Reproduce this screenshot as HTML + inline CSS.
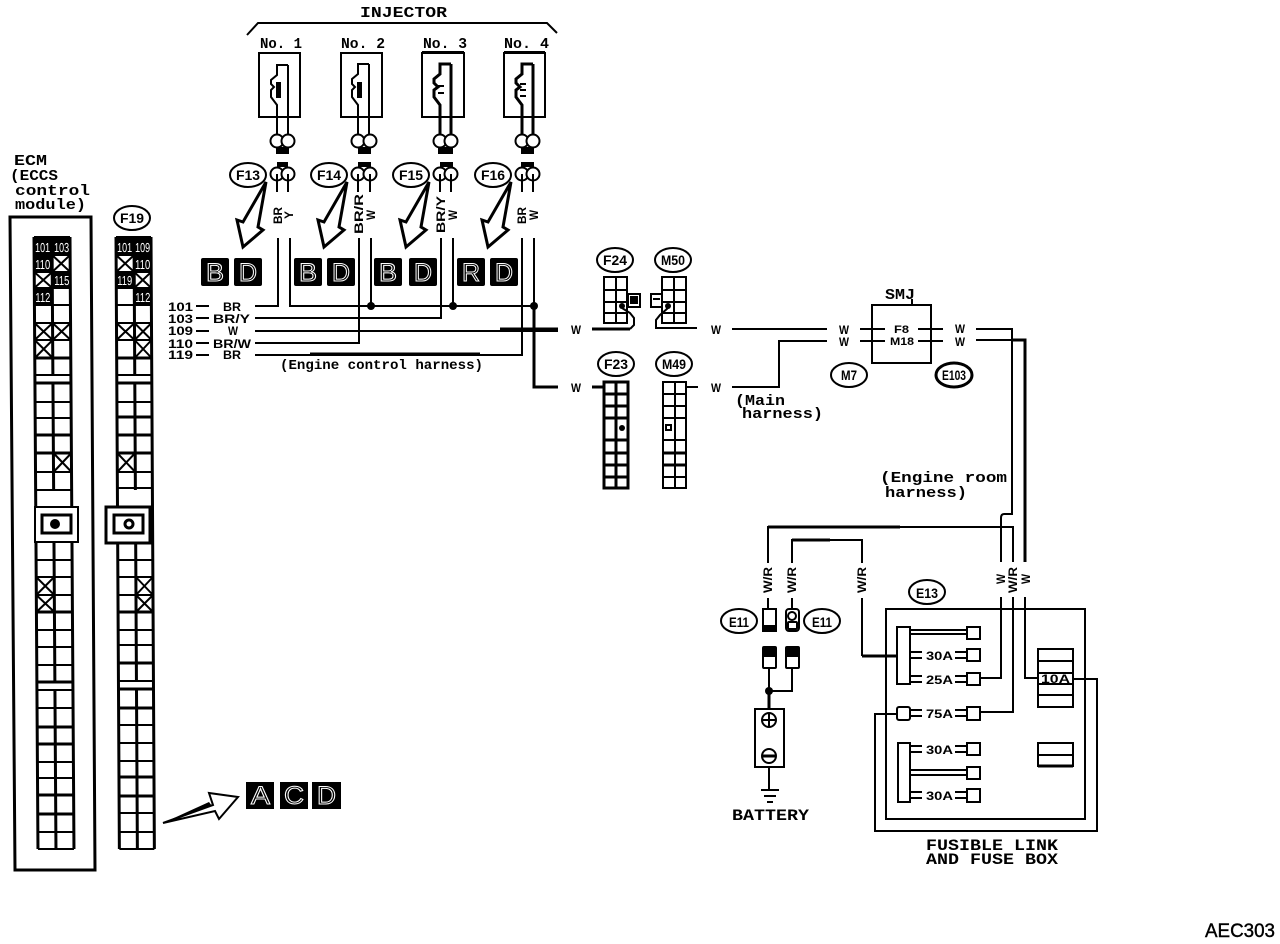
<!DOCTYPE html>
<html><head><meta charset="utf-8"><style>
html,body{margin:0;padding:0;background:#fff}
svg{display:block}
text{font-family:"Liberation Sans",sans-serif;font-weight:bold;fill:#000}
text.n{font-family:"Liberation Mono",monospace;font-weight:bold}
.l{fill:none;stroke:#000;stroke-width:2}
.t{stroke-width:3}
.ov{fill:#fff;stroke:#000;stroke-width:2}
.bx{fill:#fff;stroke:#000;stroke-width:2}
.bk{fill:#000}
.bt{fill:#000;stroke:#fff;stroke-width:1;font-size:25px;font-weight:normal}
.wt{fill:#fff;font-size:13px;font-weight:normal}
</style></head><body>
<svg width="1280" height="944" viewBox="0 0 1280 944" xmlns="http://www.w3.org/2000/svg">
<rect width="1280" height="944" fill="#fff"/>

<!-- ECM box -->
<text class="n" x="14" y="165" font-size="15" textLength="33" lengthAdjust="spacingAndGlyphs">ECM</text>
<text class="n" x="10" y="180" font-size="15" textLength="48" lengthAdjust="spacingAndGlyphs">(ECCS</text>
<text class="n" x="15" y="195" font-size="15" textLength="75" lengthAdjust="spacingAndGlyphs">control</text>
<text class="n" x="15" y="209" font-size="15" textLength="71" lengthAdjust="spacingAndGlyphs">module)</text>
<path class="l t" d="M10 217L15 870H95L91 217Z"/>

<!-- ECM grid -->
<g transform="matrix(1 0 .0065 1 -1.55 0)">
<path class="l t" d="M34 237V849M52 237V375M52 383V490M52 542V682M52 690V849M70 237V849"/>
<path class="l" d="M34 237H70M34 255H70M34 272H70M34 288H70M34 305H70M34 323H70M34 340H70M34 375H70M34 402H70M34 418H70M34 472H70M34 490H70M34 560H70M34 577H70M34 595H70M34 630H70M34 647H70M34 665H70M34 690H70M34 708H70M34 762H70M34 778H70M34 832H70M34 849H70"/>
<path class="l t" d="M34 358H70M34 383H70M34 435H70M34 453H70M34 612H70M34 682H70M34 727H70M34 744H70M34 795H70M34 814H70"/>
<rect class="bk" x="33" y="237" width="37" height="19"/><rect class="bk" x="33" y="255" width="19" height="17"/><rect class="bk" x="52" y="272" width="18" height="16"/><rect class="bk" x="33" y="288" width="19" height="17"/>
<text class="wt" x="35" y="252" textLength="15" lengthAdjust="spacingAndGlyphs" font-size="14">101</text>
<text class="wt" x="54" y="252" textLength="15" lengthAdjust="spacingAndGlyphs" font-size="14">103</text>
<text class="wt" x="35" y="269" textLength="15" lengthAdjust="spacingAndGlyphs" font-size="14">110</text>
<text class="wt" x="54" y="285" textLength="15" lengthAdjust="spacingAndGlyphs" font-size="14">115</text>
<text class="wt" x="35" y="302" textLength="15" lengthAdjust="spacingAndGlyphs" font-size="14">112</text>
<path class="l" d="M52 255L70 272M70 255L52 272M34 272L52 288M52 272L34 288M34 323L52 340M52 323L34 340M52 323L70 340M70 323L52 340M34 340L52 358M52 340L34 358M52 453L70 472M70 453L52 472M34 577L52 595M52 577L34 595M34 595L52 612M52 595L34 612"/>
</g>
<rect class="bx" x="35" y="507" width="43" height="35" stroke-width="3"/>
<rect class="bx" x="42" y="515" width="29" height="18" style="stroke-width:3"/>
<circle class="bk" cx="55" cy="524" r="5"/>

<!-- F19 -->
<ellipse class="ov" cx="132" cy="218" rx="18" ry="12"/>
<text x="120" y="223" font-size="14" textLength="24" lengthAdjust="spacingAndGlyphs">F19</text>
<g transform="matrix(1 0 .0055 1 -1.3 0)">
<path class="l t" d="M116 237V849M134 237V375M134 383V490M134 542V682M134 690V849M151 237V849"/>
<path class="l" d="M116 237H151M116 255H151M116 272H151M116 288H151M116 305H151M116 323H151M116 340H151M116 375H151M116 402H151M116 472H151M116 488H151M116 560H151M116 577H151M116 595H151M116 630H151M116 645H151M116 681H151M116 725H151M116 743H151M116 761H151M116 813H151M116 832H151M116 849H151"/>
<path class="l t" d="M116 358H151M116 383H151M116 417H151M116 435H151M116 453H151M116 612H151M116 663H151M116 689H151M116 708H151M116 777H151M116 796H151"/>
<rect class="bk" x="115" y="237" width="37" height="19"/><rect class="bk" x="134" y="255" width="18" height="17"/><rect class="bk" x="115" y="272" width="19" height="16"/><rect class="bk" x="134" y="288" width="18" height="17"/>
<text class="wt" x="117" y="252" textLength="15" lengthAdjust="spacingAndGlyphs" font-size="14">101</text>
<text class="wt" x="135" y="252" textLength="15" lengthAdjust="spacingAndGlyphs" font-size="14">109</text>
<text class="wt" x="135" y="269" textLength="15" lengthAdjust="spacingAndGlyphs" font-size="14">110</text>
<text class="wt" x="117" y="285" textLength="15" lengthAdjust="spacingAndGlyphs" font-size="14">119</text>
<text class="wt" x="135" y="302" textLength="15" lengthAdjust="spacingAndGlyphs" font-size="14">112</text>
<path class="l" d="M116 255L134 272M134 255L116 272M134 272L151 288M151 272L134 288M116 323L134 340M134 323L116 340M134 323L151 340M151 323L134 340M134 340L151 358M151 340L134 358M116 453L134 472M134 453L116 472M134 577L151 595M151 577L134 595M134 595L151 612M151 595L134 612"/>
</g>
<rect class="bx" x="106" y="507" width="44" height="36" style="stroke-width:3"/>
<rect class="bx" x="114" y="515" width="29" height="18" style="stroke-width:3"/>
<circle cx="129" cy="524" r="4" fill="#fff" stroke="#000" stroke-width="3"/>

<!-- ACD arrow and badges -->
<path class="l" d="M163 823L213 805L209 793L238 797L219 819L215 811Z"/>
<path class="bk" d="M163 823L209 802L212 806Z"/>
<rect class="bk" x="246" y="782" width="28" height="27"/><rect class="bk" x="280" y="782" width="28" height="27"/><rect class="bk" x="312" y="782" width="29" height="27"/>
<text class="bt" x="251" y="804" textLength="19" lengthAdjust="spacingAndGlyphs">A</text>
<text class="bt" x="284" y="804" textLength="20" lengthAdjust="spacingAndGlyphs">C</text>
<text class="bt" x="317" y="804" textLength="19" lengthAdjust="spacingAndGlyphs">D</text>

<!-- Injector header -->
<text class="n" x="360" y="17" font-size="15" textLength="87" lengthAdjust="spacingAndGlyphs">INJECTOR</text>
<path class="l" d="M247 35L258 23H547L557 33"/>
<text class="n" x="260" y="48" font-size="15" textLength="42" lengthAdjust="spacingAndGlyphs">No. 1</text>
<text class="n" x="341" y="48" font-size="15" textLength="44" lengthAdjust="spacingAndGlyphs">No. 2</text>
<text class="n" x="423" y="48" font-size="15" textLength="44" lengthAdjust="spacingAndGlyphs">No. 3</text>
<text class="n" x="504" y="48" font-size="15" textLength="45" lengthAdjust="spacingAndGlyphs">No. 4</text>

<!-- Injector 1 -->
<rect class="bx" x="259" y="53" width="41" height="64"/>
<path class="l" d="M288 65V135M288 65H277V75L271 80V84L274 87L271 90V97L277 105V135"/>
<rect class="bk" x="276" y="82" width="5" height="16"/>
<circle class="ov" cx="277" cy="141" r="6.5"/><circle class="ov" cx="288" cy="141" r="6.5"/>
<rect class="bk" x="276" y="147" width="13" height="7"/>
<rect class="bk" x="277" y="162" width="11" height="5"/>
<circle class="ov" cx="277" cy="174" r="6.5"/><circle class="ov" cx="288" cy="174" r="6.5"/>
<path class="l" d="M277 174V192M288 174V192"/>
<!-- Injector 2 -->
<rect class="bx" x="341" y="53" width="41" height="64"/>
<path class="l" d="M369 64V135M369 64H358V74L352 79V84L355 87L352 90V97L358 105V135"/>
<rect class="bk" x="357" y="82" width="5" height="16"/>
<circle class="ov" cx="358" cy="141" r="6.5"/><circle class="ov" cx="370" cy="141" r="6.5"/>
<rect class="bk" x="358" y="147" width="13" height="7"/>
<rect class="bk" x="358" y="162" width="13" height="5"/>
<circle class="ov" cx="358" cy="174" r="6.5"/><circle class="ov" cx="370" cy="174" r="6.5"/>
<path class="l" d="M358 174V192M370 174V192"/>
<!-- Injector 3 -->
<rect class="bx" x="422" y="53" width="42" height="64"/>
<path class="l t" d="M451 64V135M451 64H440V74L434 79V83L438 87L434 90V97L440 105V135"/>
<rect class="bk" x="422" y="51" width="42" height="2"/>
<path class="l" d="M438 86H444M438 93H444"/>
<circle class="ov" cx="440" cy="141" r="6.5"/><circle class="ov" cx="451" cy="141" r="6.5"/>
<rect class="bk" x="438" y="147" width="15" height="7"/>
<rect class="bk" x="440" y="162" width="13" height="5"/>
<circle class="ov" cx="440" cy="174" r="6.5"/><circle class="ov" cx="451" cy="174" r="6.5"/>
<path class="l" d="M440 174V192M451 174V192"/>
<!-- Injector 4 -->
<rect class="bx" x="504" y="53" width="41" height="64"/>
<path class="l t" d="M533 64V135M533 64H522V74L516 79V83L520 87L516 90V97L522 105V135"/>
<rect class="bk" x="504" y="51" width="41" height="2"/>
<path class="l" d="M520 84H526M520 90H526M520 96H526"/>
<circle class="ov" cx="522" cy="141" r="6.5"/><circle class="ov" cx="533" cy="141" r="6.5"/>
<rect class="bk" x="521" y="147" width="13" height="7"/>
<rect class="bk" x="521" y="162" width="13" height="5"/>
<circle class="ov" cx="522" cy="174" r="6.5"/><circle class="ov" cx="533" cy="174" r="6.5"/>
<path class="l" d="M522 174V192M533 174V192"/>

<!-- Ovals top -->
<ellipse class="ov" cx="248" cy="175" rx="18" ry="12"/><text x="236" y="180" font-size="14" textLength="24" lengthAdjust="spacingAndGlyphs">F13</text>
<ellipse class="ov" cx="329" cy="175" rx="18" ry="12"/><text x="317" y="180" font-size="14" textLength="24" lengthAdjust="spacingAndGlyphs">F14</text>
<ellipse class="ov" cx="411" cy="175" rx="18" ry="12"/><text x="399" y="180" font-size="14" textLength="24" lengthAdjust="spacingAndGlyphs">F15</text>
<ellipse class="ov" cx="493" cy="175" rx="18" ry="12"/><text x="481" y="180" font-size="14" textLength="24" lengthAdjust="spacingAndGlyphs">F16</text>

<!-- Hollow arrows -->
<path class="l t" d="M266 182L243 222L237 220L243 247L263 230L258 227Z"/>
<path class="l t" d="M347 182L324 222L318 220L324 247L344 230L339 227Z"/>
<path class="l t" d="M429 182L406 222L400 220L406 247L426 230L421 227Z"/>
<path class="l t" d="M511 182L488 222L482 220L488 247L508 230L503 227Z"/>

<!-- BD badges -->
<g>
<rect class="bk" x="201" y="258" width="28" height="28" rx="2"/><rect class="bk" x="234" y="258" width="28" height="28" rx="2"/>
<rect class="bk" x="294" y="258" width="28" height="28" rx="2"/><rect class="bk" x="327" y="258" width="28" height="28" rx="2"/>
<rect class="bk" x="374" y="258" width="28" height="28" rx="2"/><rect class="bk" x="409" y="258" width="28" height="28" rx="2"/>
<rect class="bk" x="457" y="258" width="28" height="28" rx="2"/><rect class="bk" x="490" y="258" width="28" height="28" rx="2"/>
<text class="bt" x="206" y="281" textLength="18" lengthAdjust="spacingAndGlyphs">B</text><text class="bt" x="239" y="281" textLength="18" lengthAdjust="spacingAndGlyphs">D</text>
<text class="bt" x="299" y="281" textLength="18" lengthAdjust="spacingAndGlyphs">B</text><text class="bt" x="332" y="281" textLength="18" lengthAdjust="spacingAndGlyphs">D</text>
<text class="bt" x="379" y="281" textLength="18" lengthAdjust="spacingAndGlyphs">B</text><text class="bt" x="414" y="281" textLength="18" lengthAdjust="spacingAndGlyphs">D</text>
<text class="bt" x="462" y="281" textLength="18" lengthAdjust="spacingAndGlyphs">R</text><text class="bt" x="495" y="281" textLength="18" lengthAdjust="spacingAndGlyphs">D</text>
</g>

<!-- Rotated wire labels top -->
<g font-size="11">
<text transform="translate(282 224) rotate(-90)" font-size="12" textLength="17" lengthAdjust="spacingAndGlyphs">BR</text>
<text transform="translate(293 219) rotate(-90)" font-size="12" textLength="8" lengthAdjust="spacingAndGlyphs">Y</text>
<text transform="translate(363 234) rotate(-90)" font-size="12" textLength="40" lengthAdjust="spacingAndGlyphs">BR/R</text>
<text transform="translate(375 220) rotate(-90)" font-size="12" textLength="10" lengthAdjust="spacingAndGlyphs">W</text>
<text transform="translate(445 233) rotate(-90)" font-size="12" textLength="37" lengthAdjust="spacingAndGlyphs">BR/Y</text>
<text transform="translate(457 220) rotate(-90)" font-size="12" textLength="10" lengthAdjust="spacingAndGlyphs">W</text>
<text transform="translate(526 224) rotate(-90)" font-size="12" textLength="17" lengthAdjust="spacingAndGlyphs">BR</text>
<text transform="translate(538 220) rotate(-90)" font-size="12" textLength="10" lengthAdjust="spacingAndGlyphs">W</text>
</g>

<!-- Harness wires -->
<path class="l" d="M278 238V306H255M290 238V306H534M359 238V343H255M371 238V306M441 238V318H255M453 238V306M522 238V355H255M534 238V306M255 331H558"/>
<path class="l t" d="M534 306V387H558M500 329H558M310 354H480"/>
<circle class="bk" cx="371" cy="306" r="4"/><circle class="bk" cx="453" cy="306" r="4"/><circle class="bk" cx="534" cy="306" r="4"/>

<!-- Left labels -->
<g font-size="12">
<text x="168" y="311" textLength="25" lengthAdjust="spacingAndGlyphs">101</text><text x="223" y="311" textLength="18" lengthAdjust="spacingAndGlyphs">BR</text>
<text x="168" y="323" textLength="25" lengthAdjust="spacingAndGlyphs">103</text><text x="213" y="323" textLength="37" lengthAdjust="spacingAndGlyphs">BR/Y</text>
<text x="168" y="335" textLength="25" lengthAdjust="spacingAndGlyphs">109</text><text x="228" y="335" textLength="10" lengthAdjust="spacingAndGlyphs">W</text>
<text x="168" y="348" textLength="25" lengthAdjust="spacingAndGlyphs">110</text><text x="213" y="348" textLength="38" lengthAdjust="spacingAndGlyphs">BR/W</text>
<text x="168" y="359" textLength="25" lengthAdjust="spacingAndGlyphs">119</text><text x="223" y="359" textLength="18" lengthAdjust="spacingAndGlyphs">BR</text>
</g>
<path class="l" d="M196 306H209M196 318H209M196 331H209M196 343H209M196 355H209"/>
<text class="n" x="280" y="369" font-size="14" textLength="203" lengthAdjust="spacingAndGlyphs">(Engine control harness)</text>

<!-- F24 M50 -->
<ellipse class="ov" cx="615" cy="260" rx="18" ry="12"/><text x="603" y="265" font-size="14" textLength="24" lengthAdjust="spacingAndGlyphs">F24</text>
<ellipse class="ov" cx="673" cy="260" rx="18" ry="12"/><text x="661" y="265" font-size="14" textLength="24" lengthAdjust="spacingAndGlyphs">M50</text>
<path class="l" d="M604 277H627V323H604ZM616 277V323M604 290H627M604 302H627M604 313H627"/>
<rect class="bx" x="628" y="294" width="12" height="13"/><rect class="bk" x="630" y="296" width="8" height="8"/>
<path class="l t" d="M592 329H630"/>
<path class="l" d="M630 329L634 325V318L630 313L622 308"/><circle class="bk" cx="622" cy="306" r="3"/>
<path class="l" d="M662 277H686V323H662ZM674 277V323M662 290H686M662 302H686M662 313H686"/>
<rect class="bx" x="651" y="294" width="11" height="13"/><path class="l" d="M653 299H660" />
<path class="l" d="M697 328H656V320L660 315L668 308"/><circle class="bk" cx="668" cy="306" r="3"/>
<text x="571" y="334" font-size="12" textLength="10" lengthAdjust="spacingAndGlyphs">W</text>
<text x="711" y="334" font-size="12" textLength="10" lengthAdjust="spacingAndGlyphs">W</text>
<path class="l" d="M732 329H827"/>

<!-- F23 M49 -->
<ellipse class="ov" cx="616" cy="364" rx="18" ry="12"/><text x="604" y="369" font-size="14" textLength="24" lengthAdjust="spacingAndGlyphs">F23</text>
<ellipse class="ov" cx="674" cy="364" rx="18" ry="12"/><text x="662" y="369" font-size="14" textLength="24" lengthAdjust="spacingAndGlyphs">M49</text>
<path class="l t" d="M604 382H628V488H604ZM616 382V488M604 394H628M604 406H628M604 418H628M604 440H628M604 453H628M604 465H628M604 477H628"/>
<path class="l" d="M616 418V440"/>
<circle class="bk" cx="622" cy="428" r="3"/>
<path class="l" d="M663 382H686V488H663ZM675 382V488M663 394H686M663 406H686M663 418H686M663 440H686M663 477H686"/>
<path class="l t" d="M663 453H686M663 465H686"/>
<rect x="666" y="425" width="5" height="5" fill="#fff" stroke="#000" stroke-width="2"/>
<path class="l t" d="M592 387H604"/>
<text x="571" y="392" font-size="12" textLength="10" lengthAdjust="spacingAndGlyphs">W</text>
<path class="l" d="M686 387H698"/>
<text x="711" y="392" font-size="12" textLength="10" lengthAdjust="spacingAndGlyphs">W</text>
<path class="l" d="M732 387H779V341H827"/>
<text class="n" x="735" y="405" font-size="15" textLength="50" lengthAdjust="spacingAndGlyphs">(Main</text>
<text class="n" x="742" y="418" font-size="15" textLength="81" lengthAdjust="spacingAndGlyphs">harness)</text>

<!-- SMJ -->
<text class="n" x="885" y="299" font-size="15" textLength="30" lengthAdjust="spacingAndGlyphs">SMJ</text>
<path class="l" d="M912 299V305"/>
<rect class="bx" x="872" y="305" width="59" height="58"/>
<text x="839" y="334" font-size="12" textLength="10" lengthAdjust="spacingAndGlyphs">W</text>
<text x="839" y="346" font-size="12" textLength="10" lengthAdjust="spacingAndGlyphs">W</text>
<path class="l" d="M860 329H885M860 341H885M918 329H943M918 341H943"/>
<text x="894" y="333" font-size="11" textLength="15" lengthAdjust="spacingAndGlyphs">F8</text>
<text x="890" y="345" font-size="11" textLength="24" lengthAdjust="spacingAndGlyphs">M18</text>
<text x="955" y="333" font-size="12" textLength="10" lengthAdjust="spacingAndGlyphs">W</text>
<text x="955" y="346" font-size="12" textLength="10" lengthAdjust="spacingAndGlyphs">W</text>
<ellipse class="ov" cx="849" cy="375" rx="18" ry="12"/><text x="841" y="380" font-size="14" textLength="16" lengthAdjust="spacingAndGlyphs">M7</text>
<ellipse class="ov" cx="954" cy="375" rx="18" ry="12" style="stroke-width:3"/><text x="942" y="380" font-size="14" textLength="24" lengthAdjust="spacingAndGlyphs">E103</text>

<!-- Engine room wires -->
<path class="l" d="M976 329H1012V514H1004Q1001 514 1001 518V562"/>
<path class="l" d="M976 340H1012"/>
<path class="l t" d="M1012 340H1025V562"/>
<path class="l" d="M768 563V527H1013V562"/>
<path class="l t" d="M768 527H900"/>
<path class="l" d="M792 563V540H862V563"/>
<path class="l t" d="M792 540H830"/>
<text class="n" x="880" y="482" font-size="15" textLength="127" lengthAdjust="spacingAndGlyphs">(Engine room</text>
<text class="n" x="885" y="497" font-size="15" textLength="82" lengthAdjust="spacingAndGlyphs">harness)</text>

<!-- Rotated WR -->
<g font-size="12">
<text transform="translate(772 593) rotate(-90)" textLength="26" lengthAdjust="spacingAndGlyphs">W/R</text>
<text transform="translate(796 593) rotate(-90)" textLength="26" lengthAdjust="spacingAndGlyphs">W/R</text>
<text transform="translate(866 593) rotate(-90)" textLength="26" lengthAdjust="spacingAndGlyphs">W/R</text>
<text transform="translate(1005 584) rotate(-90)" textLength="10" lengthAdjust="spacingAndGlyphs">W</text>
<text transform="translate(1017 593) rotate(-90)" textLength="26" lengthAdjust="spacingAndGlyphs">W/R</text>
<text transform="translate(1030 584) rotate(-90)" textLength="10" lengthAdjust="spacingAndGlyphs">W</text>
</g>

<!-- E11 + battery -->
<ellipse class="ov" cx="739" cy="621" rx="18" ry="12"/><text x="729" y="627" font-size="14" textLength="20" lengthAdjust="spacingAndGlyphs">E11</text>
<ellipse class="ov" cx="822" cy="621" rx="18" ry="12"/><text x="812" y="627" font-size="14" textLength="20" lengthAdjust="spacingAndGlyphs">E11</text>
<path class="l" d="M768 598V609M792 598V609"/>
<rect class="bx" x="763" y="609" width="13" height="22"/><rect class="bk" x="763" y="625" width="13" height="6"/>
<rect class="bx" x="786" y="609" width="13" height="22" rx="3"/><circle class="ov" cx="792" cy="616" r="4"/><rect x="788" y="622" width="9" height="7" rx="1" fill="#fff" stroke="#000" stroke-width="2"/>
<rect class="bx" x="763" y="647" width="13" height="21" rx="1"/><rect class="bk" x="763" y="647" width="13" height="10"/>
<rect class="bx" x="786" y="647" width="13" height="21" rx="1"/><rect class="bk" x="786" y="647" width="13" height="10"/>
<path class="l" d="M769 668V691M792 668V691H769"/>
<path class="l t" d="M769 691V710"/>
<circle class="bk" cx="769" cy="691" r="4"/>
<rect class="bx" x="755" y="709" width="29" height="58"/>
<circle cx="769" cy="720" r="7" fill="#fff" stroke="#000" stroke-width="2"/><path class="l" d="M762 720H776M769 713V727"/>
<circle cx="769" cy="756" r="7" fill="#fff" stroke="#000" stroke-width="2"/><path class="l t" d="M762 756H776"/>
<path class="l" d="M769 767V790M761 790H779M764 796H776M767 802H773"/>
<text class="n" x="732" y="820" font-size="16" textLength="77" lengthAdjust="spacingAndGlyphs">BATTERY</text>

<!-- Fuse box -->
<ellipse class="ov" cx="927" cy="592" rx="18" ry="12"/><text x="916" y="598" font-size="14" textLength="22" lengthAdjust="spacingAndGlyphs">E13</text>
<rect class="l" x="886" y="609" width="199" height="210"/>
<path class="l" d="M862 598V656"/>
<path class="l t" d="M862 656H897"/>
<path class="l" d="M1001 597V678H981M1013 597V712H981M1025 597V678H1038"/>
<path class="l" d="M897 714H875V831H1097V679H1073"/>
<rect class="bx" x="897" y="627" width="13" height="57"/>
<rect class="bx" x="898" y="743" width="12" height="59"/>
<rect class="bx" x="897" y="707" width="13" height="13" rx="2"/>
<path class="l" d="M910 630H967M910 634H967M910 652H922M910 658H922M955 652H967M955 658H967M910 676H922M910 682H922M955 676H967M955 682H967M910 710H922M910 716H922M955 710H967M955 716H967M910 746H922M910 752H922M955 746H967M955 752H967M910 770H967M910 775H967M910 792H922M910 798H922M955 792H967M955 798H967"/>
<g>
<rect class="bx" x="967" y="627" width="13" height="12"/><rect class="bx" x="967" y="649" width="13" height="12"/><rect class="bx" x="967" y="673" width="13" height="12"/><rect class="bx" x="967" y="707" width="13" height="13"/><rect class="bx" x="967" y="743" width="13" height="12"/><rect class="bx" x="967" y="767" width="13" height="12"/><rect class="bx" x="967" y="789" width="13" height="13"/>
</g>
<g font-size="12">
<text x="926" y="660" textLength="27" lengthAdjust="spacingAndGlyphs">30A</text>
<text x="926" y="684" textLength="27" lengthAdjust="spacingAndGlyphs">25A</text>
<text x="926" y="718" textLength="27" lengthAdjust="spacingAndGlyphs">75A</text>
<text x="926" y="754" textLength="27" lengthAdjust="spacingAndGlyphs">30A</text>
<text x="926" y="800" textLength="27" lengthAdjust="spacingAndGlyphs">30A</text>
</g>
<rect class="bx" x="1038" y="649" width="35" height="58"/>
<path class="l" d="M1038 661H1073M1038 673H1073M1038 684H1073M1038 695H1073"/>
<text x="1041" y="683" font-size="12" textLength="29" lengthAdjust="spacingAndGlyphs">10A</text>
<rect class="bx" x="1038" y="743" width="35" height="23"/>
<path class="l" d="M1038 755H1073"/>
<path class="l t" d="M1038 766H1073"/>
<text class="n" x="926" y="850" font-size="16" textLength="132" lengthAdjust="spacingAndGlyphs">FUSIBLE LINK</text>
<text class="n" x="926" y="864" font-size="16" textLength="132" lengthAdjust="spacingAndGlyphs">AND FUSE BOX</text>

<text x="1205" y="937" font-size="19" textLength="70" lengthAdjust="spacingAndGlyphs" style="font-weight:normal" stroke="#000" stroke-width=".4">AEC303</text>
</svg>
</body></html>
